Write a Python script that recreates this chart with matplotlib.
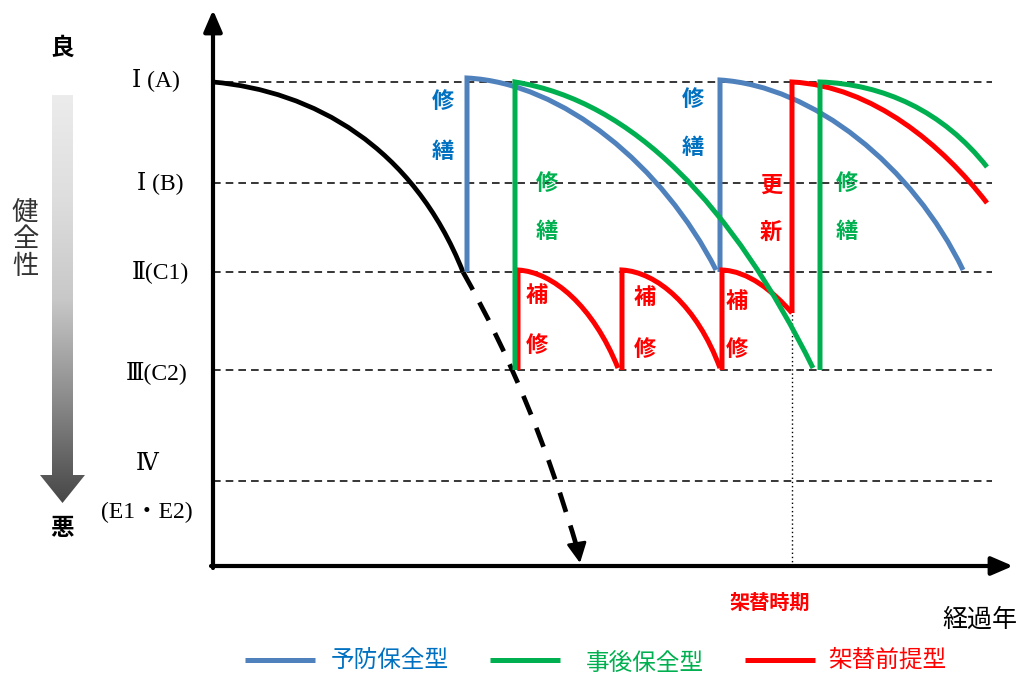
import numpy as np
import matplotlib.pyplot as plt
from matplotlib.path import Path
from matplotlib.patches import PathPatch, Polygon
from matplotlib.colors import LinearSegmentedColormap

plt.rcParams['font.family'] = ['Noto Sans CJK JP', 'DejaVu Sans']

# 健全度 (y) と 経過年 (x) の概念スケール
levels = [48.4, 38.3, 29.4, 19.6, 8.5]
level_labels = ['Ⅰ (A)', 'Ⅰ (B)', 'Ⅱ(C1)', 'Ⅲ(C2)', 'Ⅳ', '(E1・E2)']
level_label_x = [-5.7, -5.3, -5.3, -5.6, -6.6, -6.6]
level_label_y = [48.6, 38.3, 29.4, 19.3, 10.1, 5.4]
x_end = 80.0
y_top = 55.6

# 劣化曲線 (3次ベジェの制御点)
black_curve = [(0, 48.4), (10, 47.5), (20, 42), (25, 29.4)]
black_dash = [(25, 29.4), (32, 17), (36.5, 1.5)]
arrow_tip = (36.7, 0.3)

blue_x = [25.4, 50.7]
blue_base = [29.4, 29.4]
blue_curves = [[(25.4, 48.8), (35, 48.3), (45, 40), (50.3, 29.6)],
               [(50.7, 48.6), (60, 48), (70, 40), (75, 29.6)]]

green_x = [30.2, 60.7]
green_base = [19.6, 19.6]
green_curves = [[(30.2, 48.4), (42, 46.5), (52, 36), (60, 19.8)],
                [(60.7, 48.4), (67, 48.2), (73, 45.5), (77.4, 39.9)]]

red_x = [30.5, 40.9, 50.9, 57.9]
red_base = [19.6, 19.6, 19.6, 25.3]
red_curves = [[(30.5, 29.6), (34, 29.4), (38, 26), (40.5, 19.8)],
              [(40.9, 29.6), (44.4, 29.4), (48.4, 26), (50.7, 19.8)],
              [(50.9, 29.6), (53.5, 29.5), (56, 27.5), (57.9, 25.3)],
              [(57.9, 48.4), (66, 48), (73, 42), (77.4, 36.3)]]
renewal_x = 57.9

c_blue = '#4F81BD'
c_blue_txt = '#0070C0'
c_green = '#00B050'
c_red = '#FF0000'

fig = plt.figure(figsize=(10.23, 6.75), dpi=100)
ax = fig.add_axes([0, 0, 1, 1])
ax.axis('off')


def curve(ax, x, base, pts, color, lw=3.6, z=3):
    verts = [(x, base)] + list(pts)
    codes = [Path.MOVETO, Path.LINETO, Path.CURVE4, Path.CURVE4, Path.CURVE4]
    ax.add_patch(PathPatch(Path(verts, codes), fill=False, ec=color, lw=lw,
                           capstyle='butt', joinstyle='miter', zorder=z))


# 区分線
for y in levels:
    ax.plot([0, 77.9], [y, y], color='k', lw=1.1, dashes=(5, 3.3), zorder=1)

# 架替時期
ax.plot([renewal_x, renewal_x], [0, red_base[3]], color='k', lw=1.0,
        linestyle=(0, (1, 2)), zorder=1)

# 劣化曲線 (無対策)
ax.add_patch(PathPatch(Path(black_curve, [Path.MOVETO] + [Path.CURVE4] * 3),
                       fill=False, ec='k', lw=3.4, zorder=3))
ax.add_patch(PathPatch(Path(black_dash, [Path.MOVETO, Path.CURVE3, Path.CURVE3]),
                       fill=False, ec='k', lw=3.4, linestyle=(0, (4.3, 3.0)), zorder=3))
ax.annotate('', xy=arrow_tip, xytext=black_dash[-1],
            arrowprops=dict(arrowstyle='-|>,head_length=0.6,head_width=0.3',
                            color='k', lw=2, mutation_scale=20,
                            shrinkA=0, shrinkB=0), zorder=3)

for x, b, p in zip(blue_x, blue_base, blue_curves):
    curve(ax, x, b, p, c_blue, z=3)
for x, b, p in zip(red_x, red_base, red_curves):
    curve(ax, x, b, p, c_red, z=4)
for x, b, p in zip(green_x, green_base, green_curves):
    curve(ax, x, b, p, c_green, z=5)

# 軸
ax.annotate('', xy=(0, y_top), xytext=(0, -0.2),
            arrowprops=dict(arrowstyle='-|>,head_length=0.65,head_width=0.28',
                            color='k', lw=3, mutation_scale=20, shrinkA=0, shrinkB=0))
ax.annotate('', xy=(x_end, 0), xytext=(-0.2, 0),
            arrowprops=dict(arrowstyle='-|>,head_length=0.65,head_width=0.28',
                            color='k', lw=3, mutation_scale=20, shrinkA=0, shrinkB=0))

# 区分ラベル
for lab, x, y in zip(level_labels, level_label_x, level_label_y):
    ax.text(x, y, lab, ha='center', va='center', fontsize=17,
            family=['Liberation Serif', 'DejaVu Serif', 'Noto Sans CJK JP'])

# 対策ラベル
def vlabel(x, y1, y2, s, color):
    ax.text(x, y1, s[0], color=color, ha='center', va='center', fontsize=16, fontweight='bold')
    ax.text(x, y2, s[1], color=color, ha='center', va='center', fontsize=16, fontweight='bold')

vlabel(23.0, 46.4, 41.4, '修繕', c_blue_txt)
vlabel(48.0, 46.6, 41.8, '修繕', c_blue_txt)
vlabel(33.4, 38.3, 33.4, '修繕', c_green)
vlabel(63.4, 38.3, 33.4, '修繕', c_green)
vlabel(55.8, 38.1, 33.4, '更新', c_red)
vlabel(32.4, 27.0, 22.1, '補修', c_red)
vlabel(43.2, 26.9, 21.6, '補修', c_red)
vlabel(52.4, 26.4, 21.6, '補修', c_red)

ax.text(55.7, -3.6, '架替時期', color=c_red, ha='center', va='center', fontsize=14.5, fontweight='bold')
ax.text(76.7, -5.4, '経過年', color='k', ha='center', va='center', fontsize=18)

# 健全性の矢印
arrow_poly = [(-16.1, 47.1), (-14.0, 47.1), (-14.0, 9.1), (-12.8, 9.1),
              (-15.05, 6.3), (-17.3, 9.1), (-16.1, 9.1)]
cmap = LinearSegmentedColormap.from_list('g', ['#ececec', '#dedede', '#c8c8c8', '#8a8a8a', '#474747'])
im = ax.imshow(np.linspace(0, 1, 256).reshape(-1, 1), extent=(-17.3, -12.8, 6.3, 47.1),
               origin='upper', cmap=cmap, aspect='auto', zorder=2)
poly = Polygon(arrow_poly, closed=True, fc='none', ec='none')
ax.add_patch(poly)
im.set_clip_path(poly)

ax.text(-15.1, 51.8, '良', ha='center', va='center', fontsize=17, fontweight='bold')
ax.text(-15.1, 3.8, '悪', ha='center', va='center', fontsize=17, fontweight='bold')
ax.text(-18.8, 32.6, '健\n全\n性', ha='center', va='center', fontsize=19,
        linespacing=1.0, color='#333333')

# 凡例
legend_names = ['予防保全型', '事後保全型', '架替前提型']
legend_line_x = [3.2, 27.7, 53.2]
legend_txt_x = [17.7, 43.2, 67.4]
legend_y = [-9.4, -9.7, -9.4]
legend_colors = [c_blue, c_green, c_red]
legend_txt_colors = [c_blue_txt, c_green, c_red]
for lx, tx, y, c, tc, name in zip(legend_line_x, legend_txt_x, legend_y,
                                  legend_colors, legend_txt_colors, legend_names):
    ax.plot([lx, lx + 7], [-9.4, -9.4], color=c, lw=3.6, solid_capstyle='butt')
    ax.text(tx, y, name, color=tc, ha='center', va='center', fontsize=17)

ax.set_xlim(-21.3, 81.0)
ax.set_ylim(-10.9, 56.6)

fig.savefig('out.png', dpi=100)
